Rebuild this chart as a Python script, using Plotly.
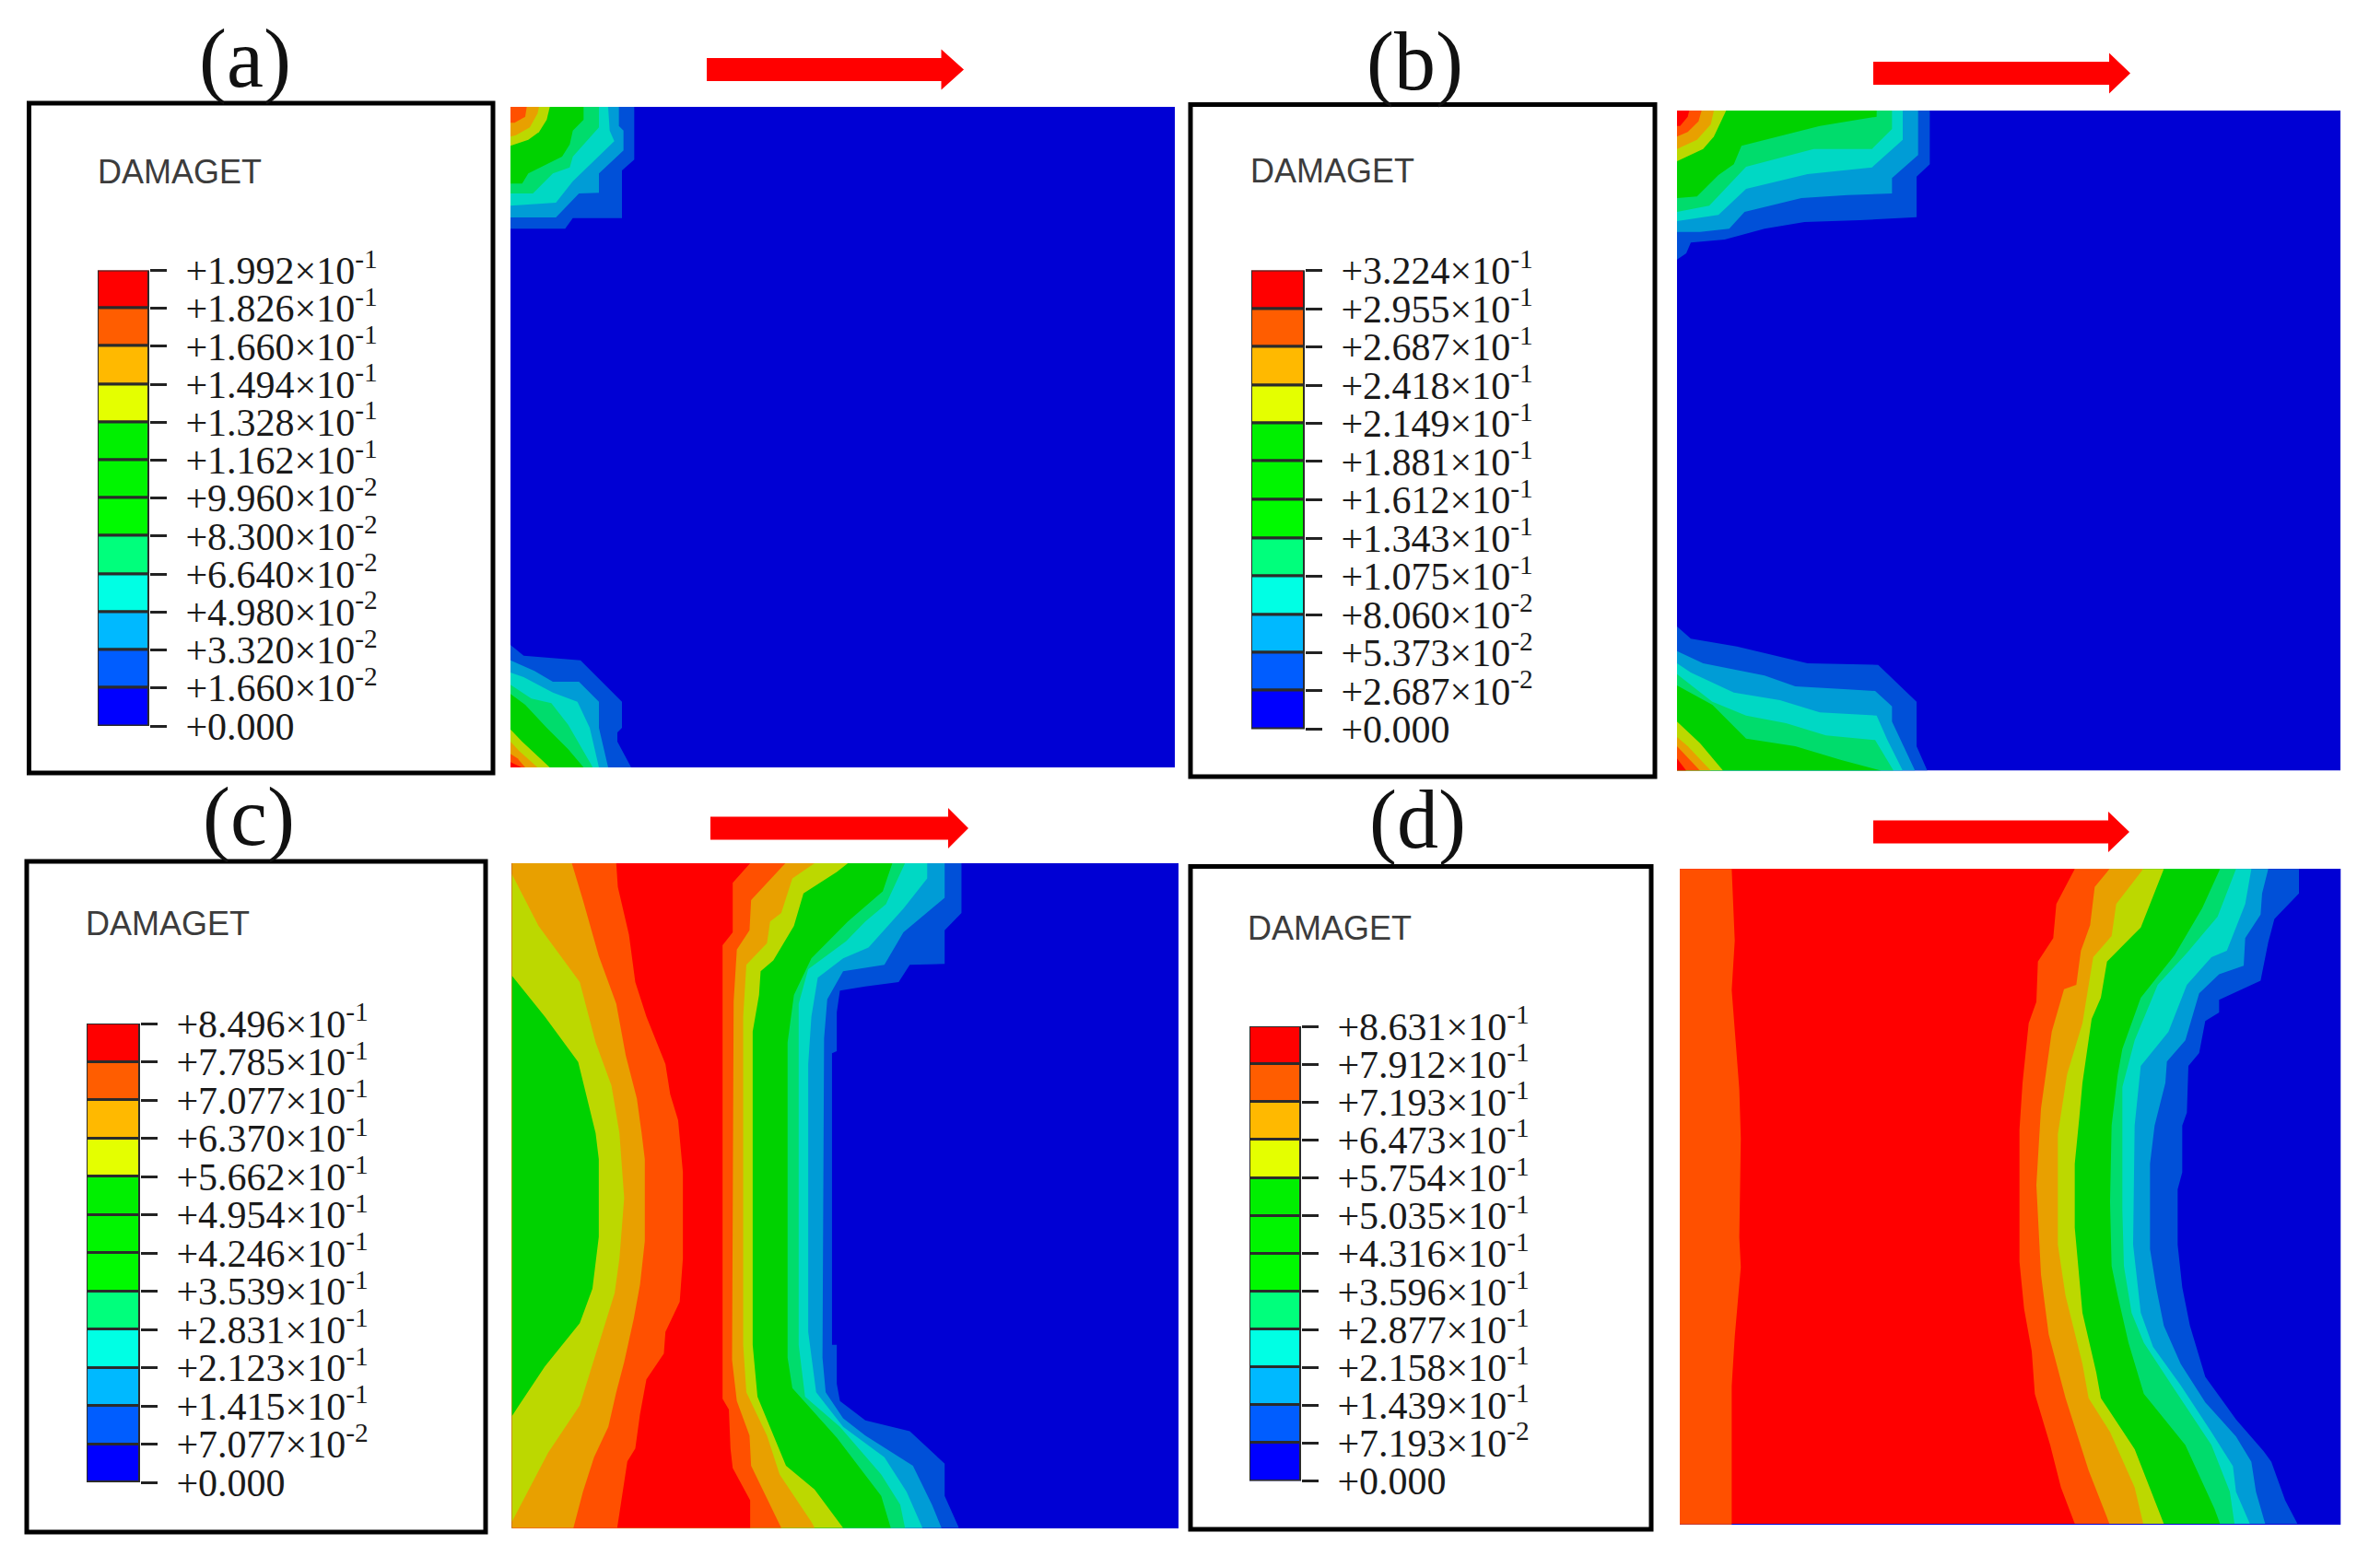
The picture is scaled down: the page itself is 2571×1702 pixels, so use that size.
import math
import plotly.graph_objects as go

W, H = 2571, 1702

# ---- legend level values (top to bottom) ----
levels_a = [0.1992, 0.1826, 0.1660, 0.1494, 0.1328, 0.1162, 0.0996, 0.0830, 0.0664, 0.0498, 0.0332, 0.0166, 0.0]
levels_b = [0.3224, 0.2955, 0.2687, 0.2418, 0.2149, 0.1881, 0.1612, 0.1343, 0.1075, 0.0806, 0.05373, 0.02687, 0.0]
levels_c = [0.8496, 0.7785, 0.7077, 0.6370, 0.5662, 0.4954, 0.4246, 0.3539, 0.2831, 0.2123, 0.1415, 0.07077, 0.0]
levels_d = [0.8631, 0.7912, 0.7193, 0.6473, 0.5754, 0.5035, 0.4316, 0.3596, 0.2877, 0.2158, 0.1439, 0.07193, 0.0]
panel_names = ["(a)", "(b)", "(c)", "(d)"]
legend_title = "DAMAGET"

# legend colours, top to bottom
legend_colors = ["#ff0000", "#ff5d00", "#ffb900", "#e4ff00", "#00f000", "#00f500", "#00fa00",
                 "#00ff7c", "#00ffe4", "#00b9ff", "#005dff", "#0000ff"]
# field colours, low to high
field_bg = "#0000d4"
field_colors = ["#0050d8", "#009cd6", "#00d8c4", "#00dc6c", "#00d200", "#bcd800", "#e8a000", "#ff5000", "#ff0000"]

a_top_bands = [
    [(415,18),(415,190),(375,225),(375,380),(215,380),(190,415),(12,415)],
    [(365,18),(365,80),(380,95),(380,160),(300,235),(300,298),(235,300),(160,378),(12,378)],
    [(330,18),(335,95),(350,130),(215,260),(160,330),(12,340)],
    [(300,18),(300,85),(215,180),(205,215),(150,235),(85,300),(12,300)],
    [(250,18),(250,60),(215,95),(205,140),(180,180),(70,235),(50,268),(12,268)],
    [(140,18),(130,60),(105,100),(70,125),(12,145)],
    [(105,18),(100,40),(75,85),(30,110),(12,115)],
    [(65,18),(60,50),(25,70),(12,70)],
]
a_bottom_bands = [
    [(12,30),(55,65),(240,80),(375,215),(375,300),(360,315),(360,345),(405,429)],
    [(12,80),(90,115),(150,150),(235,150),(300,215),(300,300),(330,429)],
    [(12,120),(55,135),(150,185),(230,215),(270,300),(300,429)],
    [(12,160),(80,205),(145,220),(200,290),(280,429)],
    [(12,190),(60,225),(130,300),(200,370),(250,429)],
    [(12,305),(50,345),(140,429)],
    [(12,345),(40,375),(100,429)],
    [(12,385),(35,400),(60,429)],
    [(12,412),(48,429)],
]
b_top_bands = [
    [(838,15),(838,190),(795,230),(795,362),(610,372),(430,378),(300,400),(170,435),(60,445),(45,480),(15,500)],
    [(800,15),(800,160),(715,235),(715,285),(570,290),(420,300),(235,345),(185,400),(90,410),(15,410)],
    [(750,15),(750,110),(650,200),(440,222),(240,270),(150,355),(15,375)],
    [(715,15),(715,75),(650,140),(460,140),(240,198),(120,325),(15,345)],
    [(665,15),(665,35),(480,65),(225,130),(200,190),(150,225),(80,295),(15,300)],
    [(175,15),(135,100),(100,140),(20,180),(15,180)],
    [(135,15),(125,60),(80,110),(15,140)],
    [(95,15),(85,50),(50,85),(15,100)],
    [(55,15),(50,35),(25,65),(15,65)],
]
b_bottom_bands = [
    [(15,30),(60,70),(210,95),(440,150),(670,155),(795,275),(795,420),(830,500)],
    [(15,110),(100,150),(300,190),(400,225),(570,235),(660,240),(715,290),(715,340),(790,500)],
    [(15,150),(60,180),(200,245),(350,270),(480,310),(665,320),(700,400),(750,500)],
    [(15,185),(130,275),(240,320),(370,345),(500,385),(660,400),(720,500)],
    [(15,222),(130,285),(240,395),(400,420),(550,465),(660,495),(680,500)],
    [(15,340),(90,410),(165,500)],
    [(15,390),(50,420),(125,500)],
    [(15,420),(90,500)],
    [(15,460),(45,500)],
]
c_right_bands = [
    [(1433,15),(1433,130),(1380,170),(1380,248),(1270,250),(1235,290),(1130,300),(1050,310),(1040,360),(1040,450),(1025,455),(1025,1130),(1040,1130),(1040,1220),(1050,1260),(1130,1305),(1270,1330),(1380,1405),(1380,1480),(1425,1554)],
    [(1380,15),(1380,95),(1250,175),(1190,250),(1060,265),(1010,330),(1000,420),(995,1160),(1005,1240),(1060,1300),(1130,1340),(1280,1410),(1340,1500),(1370,1554)],
    [(1325,15),(1325,50),(1250,120),(1140,210),(1060,235),(980,280),(960,370),(950,480),(950,1100),(965,1180),(975,1240),(1060,1320),(1190,1390),(1260,1470),(1310,1554)],
    [(1255,15),(1195,110),(1130,150),(1070,195),(950,260),(920,340),(920,1130),(940,1250),(1050,1320),(1180,1430),(1240,1500),(1255,1554)],
    [(1215,15),(1185,80),(1075,150),(960,235),(905,320),(885,430),(885,1160),(900,1230),(1040,1345),(1180,1480),(1210,1554)],
    [(1075,15),(1040,35),(935,85),(905,160),(840,240),(800,265),(795,320),(775,405),(775,1130),(790,1250),(880,1410),(970,1465),(1060,1554)],
    [(970,15),(900,50),(865,130),(830,150),(820,200),(755,250),(745,370),(745,1130),(755,1240),(820,1340),(860,1430),(960,1540),(970,1554)],
    [(878,15),(770,100),(765,170),(725,215),(715,335),(710,1165),(725,1260),(765,1340),(770,1410),(850,1530),(865,1554)],
    [(767,15),(712,60),(712,175),(680,205),(680,1255),(700,1280),(705,1370),(712,1415),(767,1490),(767,1554)],
]
c_left_bands = [
    [(345,15),(350,70),(385,180),(405,290),(440,370),(500,480),(515,550),(540,610),(555,730),(555,930),(545,1030),(500,1100),(495,1150),(440,1210),(420,1290),(405,1370),(380,1400),(365,1470),(348,1554)],
    [(205,15),(240,100),(290,230),(345,340),(375,460),(410,560),(425,640),(435,700),(435,890),(420,990),(400,1070),(370,1170),(345,1240),(320,1320),(275,1390),(240,1470),(210,1554)],
    [(16,40),(100,160),(230,290),(280,430),(330,530),(355,640),(370,790),(355,930),(340,1010),(290,1130),(230,1270),(130,1380),(16,1540)],
    [(16,275),(120,370),(225,475),(280,640),(290,700),(290,880),(270,1000),(230,1080),(120,1180),(16,1295)],
]
d_right_bands = [
    [(1005,18),(1005,75),(925,135),(905,190),(880,280),(745,325),(745,355),(700,375),(680,450),(645,480),(640,590),(625,620),(625,730),(610,770),(610,900),(625,1000),(650,1090),(700,1210),(800,1310),(890,1385),(915,1410),(960,1500),(1000,1555)],
    [(905,18),(885,75),(880,125),(830,180),(825,245),(745,265),(680,310),(635,420),(575,470),(570,520),(535,620),(520,710),(520,910),(540,1000),(565,1090),(620,1180),(700,1270),(800,1350),(850,1410),(865,1480),(895,1555)],
    [(850,18),(830,100),(770,210),(720,225),(640,290),(580,400),(490,480),(470,620),(465,900),(490,1060),(530,1140),(620,1230),(720,1340),(790,1420),(800,1480),(845,1555)],
    [(800,18),(740,130),(640,215),(545,290),(470,420),(430,530),(430,820),(435,950),(460,1060),(500,1130),(600,1240),(720,1370),(780,1480),(795,1555)],
    [(748,18),(690,110),(600,220),(490,320),(430,440),(415,500),(395,620),(390,800),(395,950),(415,1020),(450,1130),(500,1250),(635,1370),(730,1520),(748,1555)],
    [(565,18),(525,90),(490,155),(380,235),(360,320),(330,370),(300,520),(290,600),(275,710),(275,860),(290,990),(300,1060),(345,1200),(360,1260),(470,1380),(565,1555)],
    [(498,18),(410,100),(395,175),(335,225),(300,380),(250,500),(220,640),(220,900),(245,1020),(300,1180),(320,1260),(390,1340),(470,1470),(498,1555)],
    [(388,18),(340,60),(325,150),(295,210),(280,290),(240,300),(200,400),(165,580),(150,760),(165,970),(190,1110),(245,1260),(320,1430),(388,1555)],
    [(275,18),(215,100),(205,180),(155,235),(150,330),(125,380),(105,520),(95,630),(95,940),(110,1050),(135,1150),(145,1250),(195,1370),(230,1470),(275,1555)],
]
d_left_band = [(728,155),(732,300),(728,400),(738,600),(740,700),(738,900),(740,960),(732,1100),(728,1200),(728,1480)]


def px_x(v):
    return v / W


def px_y(v):
    return 1 - v / H


def fmt_level(v):
    if v == 0:
        return "+0.000"
    e = math.floor(math.log10(v))
    return f"+{v / 10 ** e:.3f}×10<sup>{e}</sup>"


# image-pixel frames of each panel
panels = [
    dict(levels=levels_a, frame=(31.5, 112, 535, 839), field=(554, 116, 1275, 833), bar=(106, 162, 293.5, 788),
         title=(104, 186.5), name=(266, 64), arrow=(767, 1021.5, 1046, 75.5)),
    dict(levels=levels_b, frame=(1292, 113.5, 1796, 843), field=(1820, 120, 2540, 836.5), bar=(1358, 1416, 293.5, 791.5),
         title=(1355, 185), name=(1535, 67), arrow=(2033, 2289, 2312, 79.5)),
    dict(levels=levels_c, frame=(29, 935, 527, 1663), field=(555.5, 937, 1279, 1659), bar=(94, 152, 1111, 1609),
         title=(91, 1002), name=(269.5, 887), arrow=(771, 1029, 1051, 899)),
    dict(levels=levels_d, frame=(1292, 940.5, 1792, 1660), field=(1823, 943, 2540.5, 1655), bar=(1356, 1412, 1114, 1607.5),
         title=(1352, 1007), name=(1538, 890), arrow=(2033, 2288, 2311, 903)),
]


def model(poly, field, ox, oy, sx, sy):
    """Crop reading -> specimen coordinates (percent of width / height)."""
    x0, y0, x1, y1 = field
    xs = [max(0, min(100, (ox + X / sx - x0) / (x1 - x0) * 100)) for X, _ in poly]
    ys = [max(0, min(100, (oy + Y / sy - y0) / (y1 - y0) * 100)) for _, Y in poly]
    xs += [0, 0]
    ys += [ys[-1], ys[0]]
    return xs, ys


fig = go.Figure()
layout_axes = {}


def add_band(idx, poly, color, cal):
    xs, ys = model(poly, panels[idx]["field"], *cal)
    n = 2 * idx + 1
    fig.add_trace(go.Scatter(x=xs, y=ys, mode="lines", fill="toself", fillcolor=color,
                             line=dict(width=0, color=color), xaxis=f"x{n}", yaxis=f"y{n}",
                             showlegend=False, hoverinfo="skip"))


for idx, p in enumerate(panels):
    n = 2 * idx + 1
    m = n + 1
    fx0, fy0, fx1, fy1 = p["field"]
    layout_axes[f"xaxis{n}"] = dict(domain=[px_x(fx0), px_x(fx1)], range=[0, 100], visible=False,
                                    anchor=f"y{n}", fixedrange=True, automargin=False)
    layout_axes[f"yaxis{n}"] = dict(domain=[px_y(fy1), px_y(fy0)], range=[100, 0], visible=False,
                                    anchor=f"x{n}", fixedrange=True, automargin=False)
    bx0, bx1, by0, by1 = p["bar"]
    layout_axes[f"xaxis{m}"] = dict(domain=[px_x(bx0), px_x(bx1)], range=[-0.5, 0.5], visible=False,
                                    anchor=f"y{m}", fixedrange=True, automargin=False)
    lv = p["levels"]
    layout_axes[f"yaxis{m}"] = dict(domain=[px_y(by1), px_y(by0)], range=[lv[-1], lv[0]], side="right",
                                    anchor=f"x{m}", tickmode="array", tickvals=lv, automargin=False,
                                    ticktext=[fmt_level(v) for v in lv], ticks="outside", ticklen=18,
                                    tickwidth=3, tickcolor="#222222", showgrid=False, zeroline=False,
                                    showline=False, ticklabelstandoff=12, fixedrange=True,
                                    tickfont=dict(family="Liberation Serif", size=42, color="#1a1a1a"))
    # field background
    fig.add_trace(go.Scatter(x=[0, 100, 100, 0, 0], y=[0, 0, 100, 100, 0], mode="lines", fill="toself",
                             fillcolor=field_bg, line=dict(width=0, color=field_bg), xaxis=f"x{n}",
                             yaxis=f"y{n}", showlegend=False, hoverinfo="skip"))
    # legend colour bar
    for i, col in enumerate(legend_colors):
        fig.add_trace(go.Bar(x=[0], y=[lv[i] - lv[i + 1]], base=[lv[i + 1]], width=1,
                             marker=dict(color=col, line=dict(color="#2b2b2b", width=3)),
                             xaxis=f"x{m}", yaxis=f"y{m}", showlegend=False, hoverinfo="skip"))

for bands, cal, idx in [
    (a_top_bands, (550, 110, 3, 3), 0),
    (a_bottom_bands, (550, 690, 3, 3), 0),
    (b_top_bands, (1815, 115, 3, 3), 1),
    (b_bottom_bands, (1815, 670, 3, 3), 1),
    (c_right_bands, (550, 930, 2.904, 2.133), 2),
    (d_right_bands, (2160, 935, 3.0, 2.163), 3),
]:
    for k, poly in enumerate(bands):
        add_band(idx, poly, field_colors[k], cal)

for poly, col in zip(c_left_bands, ["#ff5000", "#e8a000", "#bcd800", "#00d200"]):
    add_band(2, poly, col, (550, 930, 2.904, 2.133))
add_band(3, d_left_band, "#ff5000", (1280, 860, 1.2146, 1.862))

shapes = []
annotations = []
for p, name in zip(panels, panel_names):
    x0, y0, x1, y1 = p["frame"]
    shapes.append(dict(type="rect", xref="paper", yref="paper", x0=px_x(x0), x1=px_x(x1), y0=px_y(y1), y1=px_y(y0),
                       line=dict(color="black", width=5), fillcolor="rgba(0,0,0,0)", layer="above"))
    ax0, ah, atip, ay = p["arrow"]
    pts = [(ax0, ay - 12.5), (ah, ay - 12.5), (ah, ay - 22), (atip, ay), (ah, ay + 22), (ah, ay + 12.5), (ax0, ay + 12.5)]
    path = "M " + " L ".join(f"{px_x(a):.5f},{px_y(b):.5f}" for a, b in pts) + " Z"
    shapes.append(dict(type="path", xref="paper", yref="paper", path=path, fillcolor="#ff0000",
                       line=dict(color="#ff0000", width=0)))
    annotations.append(dict(text=legend_title, xref="paper", yref="paper", x=px_x(p["title"][0]), y=px_y(p["title"][1]),
                            xanchor="left", yanchor="middle", showarrow=False,
                            font=dict(family="Liberation Sans", size=36, color="#3c3c3c")))
    annotations.append(dict(text=name, xref="paper", yref="paper", x=px_x(p["name"][0]), y=px_y(p["name"][1]),
                            xanchor="center", yanchor="middle", showarrow=False,
                            font=dict(family="Liberation Serif", size=90, color="#111111")))

fig.update_layout(width=W, height=H, autosize=False, margin=dict(l=0, r=0, t=0, b=0, autoexpand=False),
                  paper_bgcolor="white", plot_bgcolor="white", barmode="overlay", bargap=0, showlegend=False,
                  hovermode=False, shapes=shapes, annotations=annotations, **layout_axes)

fig.write_html("out.html", config=dict(displayModeBar=False),
               post_script="document.body.style.margin='0';document.body.style.overflow='hidden';")
